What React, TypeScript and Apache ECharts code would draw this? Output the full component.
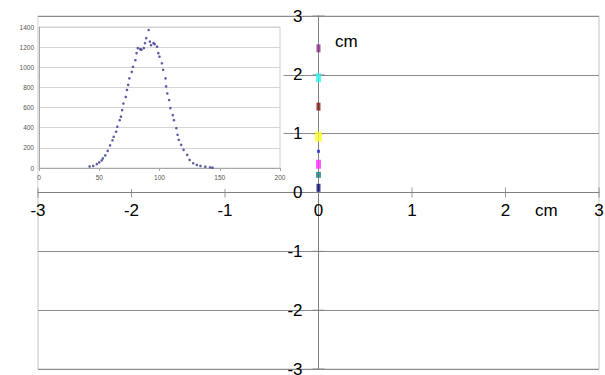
import React, { useEffect, useRef } from "react";
import * as echarts from "echarts";

// Main chart (cm) axes
const axisValues = [-3, -2, -1, 0, 1, 2, 3];
const axisUnit = "cm";

// Coloured markers along the vertical axis (x = 0), y in cm
const markerLevels = [0.08, 0.3, 0.48, 0.7, 0.95, 1.46, 1.95, 2.45];
const markerColors = ["#0b0b70", "#207f80", "#ff30ff", "#2626c8", "#ffff30", "#7a1818", "#30f4f4", "#862a86"];

// Inset histogram-like distribution (x value, count)
const insetX = [42, 45, 48, 50, 52, 53, 55, 57, 59, 61, 62, 64, 65, 67, 68, 69, 70, 72, 73, 74, 75, 77, 78, 80, 81, 82, 84, 85, 87, 88, 89, 91, 92, 93, 95, 96, 98, 99, 100, 102, 103, 105, 105.5, 106.5, 108, 109, 111, 112, 114, 115, 116, 118, 120, 123, 125, 128, 131, 134, 138, 142, 144];
const insetCount = [15, 20, 38, 55, 75, 95, 125, 170, 225, 275, 310, 360, 410, 475, 510, 575, 640, 705, 775, 825, 890, 955, 1005, 1070, 1140, 1190, 1180, 1175, 1190, 1240, 1290, 1370, 1255, 1220, 1240, 1230, 1205, 1140, 1105, 1040, 975, 890, 810, 740, 675, 595, 525, 475, 395, 330, 280, 230, 180, 130, 80, 47, 30, 20, 13, 7, 4];
const insetXTicks = { min: 0, max: 200, step: 50 };
const insetYTicks = { min: 0, max: 1400, step: 200 };

const FONT = "'Liberation Sans', Arial, sans-serif";
const markerSizes = [[4, 8], [5, 6], [5, 9], [3, 3], [7, 10], [4, 8], [5, 9], [4, 8]];

const W = 605, H = 375;
const G = { left: 38, right: 6, top: 16, bottom: 6 };

export default function App() {
  const ref = useRef<HTMLDivElement>(null);
  useEffect(() => {
    if (!ref.current) return;
    const chart = echarts.init(ref.current, undefined, { renderer: "svg" });
    const gw = W - G.left - G.right;
    const gh = H - G.top - G.bottom;
    const plain = (v: number) => String(v);
    const option: any = {
      animation: false,
      backgroundColor: "#ffffff",
      grid: [
        { ...G, outerBoundsMode: "none", containLabel: false, show: true, borderColor: "#c4c4c4", borderWidth: 1, z: 0 },
        { left: 39, right: 325, top: 27, bottom: 207, outerBoundsMode: "none", containLabel: false, show: true, borderColor: "#d0d0d0", borderWidth: 1, z: 20 },
      ],
      xAxis: [
        {
          gridIndex: 0, type: "value", position: "bottom", offset: -gh / 2,
          min: axisValues[0], max: axisValues[axisValues.length - 1], interval: 1, z: 0,
          axisLine: { onZero: false, lineStyle: { color: "#808080", width: 1 } },
          axisTick: { show: false }, splitLine: { show: false },
          axisLabel: { fontSize: 17, color: "#000", margin: 9, fontFamily: FONT, formatter: plain },
        },
        {
          gridIndex: 1, type: "value", min: insetXTicks.min, max: insetXTicks.max, interval: insetXTicks.step, z: 20,
          axisLine: { onZero: false, lineStyle: { color: "#a8a8a8" } },
          axisTick: { show: true, length: 3, lineStyle: { color: "#a8a8a8" } },
          splitLine: { show: false },
          axisLabel: { fontSize: 6.5, color: "#555", margin: 6, fontFamily: FONT, formatter: plain },
        },
      ],
      yAxis: [
        {
          gridIndex: 0, type: "value", position: "left", offset: -gw / 2,
          min: axisValues[0], max: axisValues[axisValues.length - 1], interval: 1, z: 0,
          axisLine: { show: true, onZero: false, lineStyle: { color: "#808080", width: 1 } },
          axisTick: { show: false },
          splitLine: { show: true, lineStyle: { color: "#8c8c8c", width: 1 } },
          axisLabel: { fontSize: 17, color: "#000", margin: 16, fontFamily: FONT, formatter: plain },
        },
        {
          gridIndex: 1, type: "value", min: insetYTicks.min, max: insetYTicks.max, interval: insetYTicks.step, z: 20,
          axisLine: { show: true, onZero: false, lineStyle: { color: "#a8a8a8" } },
          axisTick: { show: false },
          splitLine: { show: true, lineStyle: { color: "#d4d4d4" } },
          axisLabel: { fontSize: 6.5, color: "#555", margin: 5, fontFamily: FONT, formatter: plain },
        },
      ],
      series: [
        {
          type: "scatter", xAxisIndex: 0, yAxisIndex: 0, silent: true, z: 1,
          symbol: "rect", symbolSize: [1, 10],
          itemStyle: { color: "#808080" },
          data: axisValues.map((v) => [v, 0]),
        },
        {
          type: "scatter", xAxisIndex: 0, yAxisIndex: 0, silent: true, z: 1,
          symbol: "rect", symbolSize: [12, 1],
          itemStyle: { color: "#808080" },
          data: axisValues.map((v) => [0, v]),
        },
        {
          type: "scatter", xAxisIndex: 1, yAxisIndex: 1, silent: true, z: 21,
          symbol: "circle", symbolSize: 2.6,
          itemStyle: { color: "#34348c" },
          data: insetX.map((x, i) => [x, insetCount[i]]),
        },
        {
          type: "scatter", xAxisIndex: 0, yAxisIndex: 0, silent: true, z: 30,
          symbol: "rect",
          data: markerLevels.map((v, i) => ({
            value: [0, v],
            symbolSize: markerSizes[i],
            itemStyle: { color: markerColors[i] },
          })),
        },
      ],
      graphic: [
        { type: "rect", z: 10, shape: { x: 38.5, y: 17, width: 245, height: 172 }, style: { fill: "#ffffff" } },
        { type: "text", z: 30, x: 335, y: 41.5, style: { text: axisUnit, fontSize: 17, fill: "#000", font: `17px ${FONT}`, verticalAlign: "middle", align: "left" } },
        { type: "text", z: 30, x: 535, y: 210, style: { text: axisUnit, fontSize: 17, fill: "#000", font: `17px ${FONT}`, verticalAlign: "middle", align: "left" } },
      ],
    };
    chart.setOption(option);
    return () => chart.dispose();
  }, []);
  return (
    <div
      ref={ref}
      style={{ position: "fixed", left: 0, top: 0, width: W, height: H, background: "#fff" }}
    />
  );
}
